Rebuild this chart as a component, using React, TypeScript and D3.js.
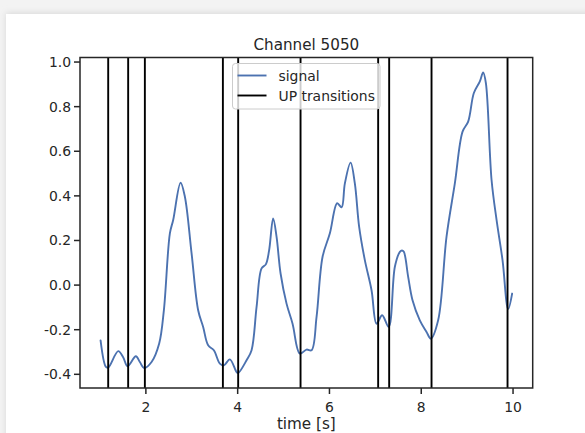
import React from "react";
import * as d3 from "d3";

const timeS = [1.013, 1.129, 1.179, 1.397, 1.505, 1.601, 1.782, 1.869, 1.963, 2.124, 2.29, 2.392, 2.523, 2.595, 2.756, 2.85, 2.996, 3.139, 3.248, 3.357, 3.481, 3.612, 3.699, 3.83, 3.976, 4.011, 4.194, 4.303, 4.412, 4.521, 4.614, 4.686, 4.773, 4.847, 4.935, 5.065, 5.196, 5.355, 5.501, 5.61, 5.719, 5.85, 6.009, 6.168, 6.264, 6.336, 6.46, 6.553, 6.647, 6.771, 6.917, 7.026, 7.148, 7.29, 7.425, 7.534, 7.58, 7.621, 7.715, 7.81, 7.969, 8.115, 8.209, 8.368, 8.551, 8.732, 8.9, 9.022, 9.146, 9.277, 9.349, 9.408, 9.532, 9.641, 9.771, 9.893, 9.98];
const signal = [-0.248, -0.367, -0.37, -0.296, -0.323, -0.364, -0.319, -0.345, -0.372, -0.345, -0.262, -0.113, 0.232, 0.292, 0.459, 0.396, 0.142, -0.113, -0.188, -0.27, -0.292, -0.352, -0.36, -0.333, -0.39, -0.394, -0.337, -0.292, -0.098, 0.075, 0.093, 0.157, 0.299, 0.217, 0.052, -0.083, -0.173, -0.307, -0.289, -0.292, -0.143, 0.127, 0.232, 0.367, 0.349, 0.456, 0.549, 0.456, 0.261, 0.112, -0.023, -0.173, -0.135, -0.187, 0.082, 0.149, 0.155, 0.149, 0.037, -0.068, -0.158, -0.21, -0.24, -0.158, 0.217, 0.456, 0.688, 0.733, 0.861, 0.913, 0.953, 0.906, 0.471, 0.292, 0.112, -0.107, -0.038];
const upTransitions = [1.179, 1.614, 1.978, 3.678, 4.011, 5.37, 7.061, 7.301, 8.224, 9.88];
const xTicks = [2, 4, 6, 8, 10];
const yTicks = [-0.4, -0.2, 0.0, 0.2, 0.4, 0.6, 0.8, 1.0];
const title = "Channel 5050";
const xLabel = "time [s]";
const legendLabels = ["signal", "UP transitions"];

export default function App() {
  const W = 585, H = 433;
  const L = 80, R = 532.7, T = 57.5, B = 388;
  const [t0, t1] = d3.extent(timeS) as [number, number];
  const [v0, v1] = d3.extent(signal) as [number, number];
  const tp = (t1 - t0) * 0.05, vp = (v1 - v0) * 0.05;
  const x = d3.scaleLinear().domain([t0 - tp, t1 + tp]).range([L, R]);
  const y = d3.scaleLinear().domain([v0 - vp, v1 + vp]).range([B, T]);
  const pts: [number, number][] = timeS.map((t, i) => [t, signal[i]]);
  const line = d3.line<[number, number]>().x(d => x(d[0])).y(d => y(d[1])).curve(d3.curveCatmullRom.alpha(0.5));
  const ink = "#262626";
  const font = "DejaVu Sans, sans-serif";
  const blue = "#4c72b0";
  const lx = 232.5, ly = 63.5, lw = 147.5, lh = 45.5;
  return (
    <svg width={W} height={H} style={{ position: "absolute", left: 0, top: 0 }} fontFamily={font}>
      <defs>
        <filter id="sh" x="-5%" y="-5%" width="110%" height="110%">
          <feGaussianBlur stdDeviation="3" />
        </filter>
        <clipPath id="ax"><rect x={L} y={T} width={R - L} height={B - T} /></clipPath>
      </defs>
      <rect x={0} y={0} width={W} height={H} fill="#f3f3f3" />
      <rect x={6} y={13} width={W + 20} height={H + 20} fill="#d8d8d8" filter="url(#sh)" />
      <rect x={6} y={14} width={W} height={H} fill="#ffffff" />
      <text x={(L + R) / 2} y={50} textAnchor="middle" fontSize={15.2} fill={ink}>{title}</text>
      <g clipPath="url(#ax)">
        <path d={line(pts) || ""} fill="none" stroke={blue} strokeWidth={1.9} strokeLinejoin="round" strokeLinecap="round" />
        {upTransitions.map((t, i) => (
          <line key={i} x1={x(t)} x2={x(t)} y1={T} y2={B} stroke="#000" strokeWidth={1.9} />
        ))}
      </g>
      <rect x={L} y={T} width={R - L} height={B - T} fill="none" stroke={ink} strokeWidth={1.5} />
      {yTicks.map(v => (
        <g key={v}>
          <line x1={L - 6} x2={L} y1={y(v)} y2={y(v)} stroke={ink} strokeWidth={1.5} />
          <text x={L - 9} y={y(v)} dy="0.36em" textAnchor="end" fontSize={13.9} fill={ink}>{v.toFixed(1)}</text>
        </g>
      ))}
      {xTicks.map(t => (
        <g key={t}>
          <line x1={x(t)} x2={x(t)} y1={B} y2={B + 6} stroke={ink} strokeWidth={1.5} />
          <text x={x(t)} y={412} textAnchor="middle" fontSize={13.9} fill={ink}>{t}</text>
        </g>
      ))}
      <text x={(L + R) / 2} y={429} textAnchor="middle" fontSize={15.2} fill={ink}>{xLabel}</text>
      <g>
        <rect x={lx} y={ly} width={lw} height={lh} rx={3} fill="#ffffff" fillOpacity={0.8} stroke="#cccccc" strokeWidth={1} />
        <line x1={237.5} x2={266.5} y1={75.5} y2={75.5} stroke={blue} strokeWidth={1.9} />
        <text x={278.5} y={75.5} dy="0.36em" fontSize={13.9} fill={ink}>{legendLabels[0]}</text>
        <line x1={237.5} x2={266.5} y1={95.5} y2={95.5} stroke="#000" strokeWidth={1.9} />
        <text x={278.5} y={95.5} dy="0.36em" fontSize={13.9} fill={ink}>{legendLabels[1]}</text>
      </g>
    </svg>
  );
}
